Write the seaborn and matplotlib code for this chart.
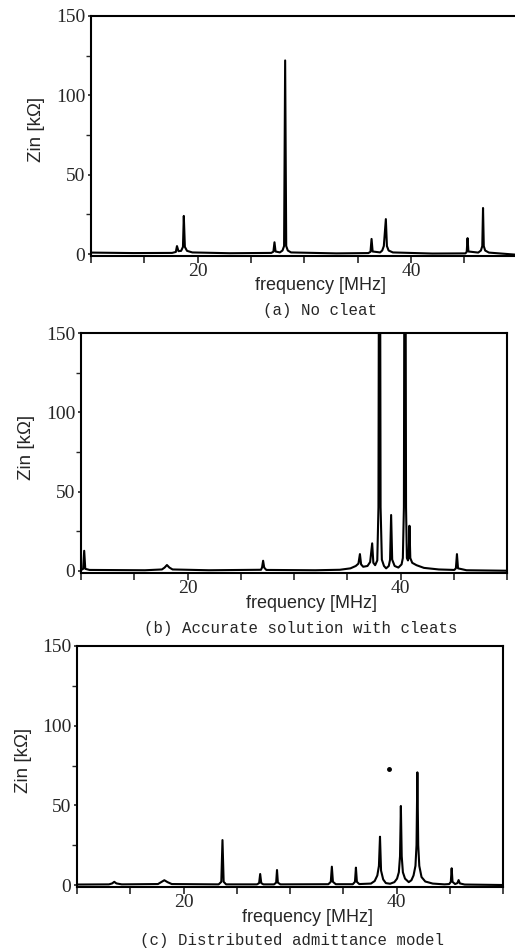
import matplotlib
matplotlib.use("Agg")
import matplotlib.pyplot as plt
import numpy as np
import pandas as pd
import seaborn as sns

# ---- data (frequency in MHz, Zin in kOhm) ----
# (a) No cleat
freq_a = [10.0, 14.0, 17.6,
          17.95, 18.06, 18.2,
          18.45, 18.62, 18.7, 18.8, 19.0, 19.5,
          23.0, 26.9,
          27.1, 27.2, 27.3,
          27.7, 27.95, 28.1, 28.2, 28.3, 28.45, 28.75,
          33.0, 36.0,
          36.2, 36.3, 36.4,
          37.1, 37.3, 37.45, 37.64, 37.74, 37.9, 38.3,
          42.0, 45.1,
          45.22, 45.3, 45.38,
          46.3, 46.55, 46.68, 46.75, 46.82, 46.95, 47.3,
          50.0]
zin_a = [0.9, 0.6, 0.7,
         1.3, 5.0, 1.8,
         2.0, 4.5, 24.0, 4.5, 2.0, 1.0,
         0.5, 0.7,
         1.5, 7.4, 1.6,
         1.0, 2.2, 5.0, 122.0, 5.0, 2.2, 1.0,
         0.4, 0.6,
         1.4, 9.5, 1.6,
         1.0, 2.2, 5.0, 22.0, 5.0, 2.2, 1.0,
         0.3, 0.4,
         1.4, 10.0, 1.6,
         0.9, 2.2, 5.0, 29.0, 5.0, 2.2, 0.9,
         -0.5]

# (b) Accurate solution with cleats (two peaks run off the top)
freq_b = [10.0, 10.2, 10.3, 10.4, 10.8,
          16.0, 17.6, 17.85, 18.07, 18.3, 18.6,
          22.0, 26.9, 27.0, 27.1, 27.2, 27.4,
          32.0, 34.3, 35.3, 35.8, 36.05, 36.19, 36.3, 36.5,
          36.9, 37.15, 37.34, 37.45, 37.62, 37.82,
          37.93, 38.03, 38.13, 38.25, 38.45, 38.65,
          38.9, 39.02, 39.12, 39.22, 39.45, 39.8,
          40.1, 40.22, 40.32, 40.42, 40.52, 40.6, 40.7, 40.77, 40.84, 40.92,
          41.1, 41.5, 42.2, 43.6, 45.05,
          45.2, 45.3, 45.4,
          46.2, 50.0]
zin_b = [0.4, 1.2, 12.6, 1.2, 0.5,
         0.3, 0.8, 2.0, 3.6, 2.0, 0.8,
         0.3, 0.6, 2.0, 6.3, 2.0, 0.5,
         0.3, 0.6, 1.5, 3.0, 4.5, 10.5, 4.0, 2.5,
         3.0, 5.5, 17.3, 5.0, 3.5, 6.5,
         40.0, 400.0, 40.0, 7.0, 3.0, 1.5,
         3.0, 7.0, 35.2, 7.0, 3.0, 2.0,
         4.0, 8.0, 40.0, 400.0, 40.0, 8.0, 6.5, 9.0, 28.4, 8.0,
         5.0, 3.5, 1.8, 0.8, 0.5,
         1.5, 10.5, 1.5,
         0.3, 0.0]

# (c) Distributed admittance model
freq_c = [10.0, 13.0, 13.3, 13.5, 13.7, 14.2,
          17.6, 17.9, 18.2, 18.5, 18.9,
          23.3, 23.55, 23.66, 23.77, 24.0,
          26.9, 27.1, 27.2, 27.3, 27.5,
          28.5, 28.7, 28.78, 28.86, 29.1,
          33.6, 33.83, 33.93, 34.03, 34.3,
          35.9, 36.1, 36.19, 36.28, 36.5,
          37.6, 37.95, 38.2, 38.35, 38.45, 38.55, 38.75, 39.0,
          39.4, 39.8, 40.05, 40.22, 40.33, 40.41, 40.49, 40.6, 40.8, 41.15,
          41.4, 41.6, 41.78, 41.88, 41.96, 42.04, 42.14, 42.35, 42.7, 43.4, 44.5,
          44.95, 45.1, 45.18, 45.26, 45.5, 45.72, 45.83, 45.95, 46.4,
          50.0]
zin_c = [0.3, 0.4, 1.0, 2.0, 1.0, 0.4,
         0.6, 1.8, 3.0, 1.8, 0.6,
         0.4, 2.0, 28.2, 2.0, 0.4,
         0.4, 1.2, 6.9, 1.2, 0.4,
         0.4, 1.5, 9.4, 1.5, 0.4,
         0.5, 2.0, 11.5, 2.0, 0.5,
         0.5, 2.0, 10.9, 2.0, 0.6,
         0.9, 2.5, 6.0, 12.0, 30.3, 9.0, 3.5, 1.2,
         0.8, 1.8, 4.0, 8.0, 18.0, 49.6, 18.0, 8.0, 4.0, 1.8,
         3.0, 6.0, 12.0, 25.0, 70.7, 25.0, 12.0, 5.0, 2.2, 0.9, 0.4,
         0.6, 2.0, 10.5, 2.0, 0.6, 1.2, 3.1, 1.0, 0.3,
         0.0]
stray_dot_c = (39.3, 72.8)   # speck on the scan

captions = ["(a) No cleat",
            "(b) Accurate solution with cleats",
            "(c) Distributed admittance model"]

sns.set_style("white")
plt.rcParams["font.family"] = ["Liberation Serif", "DejaVu Serif"]

fig = plt.figure(figsize=(5.15, 9.52), dpi=100)
H, W = 952.0, 515.0

# axes boxes in pixels: left, right, bottom(y=-1.5), top(y=150)
boxes = [(91, 517.7, 256.4, 16.0),
         (81, 507.0, 573.1, 333.3),
         (77, 503.0, 887.4, 646.0)]
xlab_pos = [(0.537, -0.119), (0.540, -0.125), (0.540, -0.123)]
ylab_pos = [(-0.127, 0.53), (-0.129, 0.526), (-0.126, 0.528)]
cap_pos = [(320, 310), (301, 628), (292, 940)]

series = [(freq_a, zin_a), (freq_b, zin_b), (freq_c, zin_c)]

for i, ((l, r, b, t), (fx, fz)) in enumerate(zip(boxes, series)):
    ax = fig.add_axes([l / W, 1 - b / H, (r - l) / W, (b - t) / H])
    df = pd.DataFrame({"freq": fx, "zin": fz})
    sns.lineplot(data=df, x="freq", y="zin", ax=ax, color="black",
                 lw=1.5, sort=False, estimator=None)
    if i == 2:
        ax.plot([stray_dot_c[0]], [stray_dot_c[1]], "o", color="black", ms=2.5)

    ax.set_xlim(10, 50)
    ax.set_ylim(-1.5, 150)

    xt = [10, 15, 20, 25, 30, 35, 40, 45, 50]
    ax.set_xticks(xt, ["" if v not in (20, 40) else str(v) for v in xt])
    ax.set_yticks([0, 50, 100, 150], ["0", "50", "100", "150"])
    ax.set_yticks([25, 75, 125], minor=True)
    ax.tick_params(axis="x", direction="out", length=5, width=1.2, pad=0,
                   labelsize=14, bottom=True)
    ax.tick_params(axis="y", which="major", direction="out", length=2.5,
                   width=1.2, pad=1.5, labelsize=14, left=True)
    ax.tick_params(axis="y", which="minor", direction="out", length=3.5,
                   width=1.0, left=True)
    for sp in ax.spines.values():
        sp.set_linewidth(1.5)
        sp.set_color("black")

    ax.set_xlabel("frequency [MHz]", fontsize=13, family="Liberation Sans")
    ax.xaxis.set_label_coords(*xlab_pos[i])
    ax.xaxis.label.set_verticalalignment("center")
    ax.set_ylabel("Zin [kΩ]", fontsize=13.5, family="Liberation Sans")
    ax.yaxis.set_label_coords(*ylab_pos[i])
    ax.yaxis.label.set_verticalalignment("center")

    cx, cy = cap_pos[i]
    fig.text(cx / W, 1 - cy / H, captions[i], ha="center", va="center",
             fontsize=11.3, family="Liberation Mono")

fig.savefig("out.png", dpi=100, facecolor="white")
